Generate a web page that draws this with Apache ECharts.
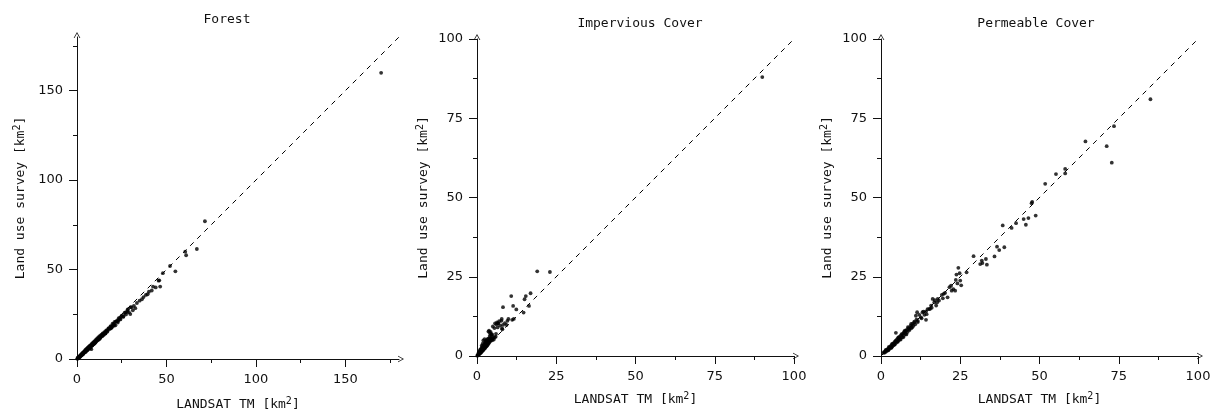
<!DOCTYPE html>
<html>
<head>
<meta charset="utf-8">
<script src="https://cdn.jsdelivr.net/npm/echarts@6/dist/echarts.min.js"></script>
<style>
  html, body { margin: 0; padding: 0; background: #fff; }
  #chart { width: 1216px; height: 410px; }
</style>
</head>
<body>
<div id="chart"></div>
<script>
// Panel titles and axis extents
const panelTitles = ['Forest', 'Impervious Cover', 'Permeable Cover'];
const axisMax = [180, 100, 100];
const majorTicks = [[0, 50, 100, 150], [0, 25, 50, 75, 100], [0, 25, 50, 75, 100]];
const minorTicks = [[25, 75, 125, 175], [12.5, 37.5, 62.5, 87.5], [12.5, 37.5, 62.5, 87.5]];

// Forest: LANDSAT TM area vs land use survey area (km²)
const forestLandsat = [
  0.2, 0.3, 0.4, 0.5, 0.6, 0.7, 0.8, 1.0, 1.1, 1.2, 1.3, 1.5, 1.6, 1.7, 1.8, 2.0, 2.1, 2.2, 2.3, 2.5,
  2.6, 2.7, 2.9, 3.0, 3.1, 3.2, 3.4, 3.5, 3.6, 3.8, 4.0, 4.1, 4.2, 4.4, 4.5, 4.6, 4.8, 5.0, 5.1, 5.3,
  5.5, 5.6, 5.8, 6.0, 6.1, 6.3, 6.5, 6.6, 6.8, 7.0, 7.1, 7.3, 7.6, 7.7, 7.9, 8.0, 8.2, 8.3, 8.5, 8.8,
  9.0, 9.1, 9.4, 9.6, 9.7, 10.0, 10.2, 10.3, 10.6, 10.9, 11.0, 11.3, 11.5, 11.7, 12.0, 12.1, 12.4, 12.8,
  12.9, 13.2, 13.6, 13.7, 14.0, 14.4, 14.6, 14.8, 15.3, 15.6, 15.8, 16.3, 16.6, 16.9, 17.5, 17.8, 18.1,
  18.7, 19.0, 19.3, 19.9, 20.2, 20.5, 21.0, 21.5, 21.8, 22.1, 22.8, 23.1, 23.5, 24.3, 24.7, 25.0, 25.8,
  26.6, 27.0, 27.4, 28.2, 28.6, 29.0, 29.8, 30.0, 30.4, 31.2, 31.8, 32.6, 33.5, 35.0, 36.3, 37.2, 38.5,
  39.5, 40.2, 41.8, 42.5, 44.0, 45.6, 46.0, 46.5, 48.0, 52.0, 55.0, 60.5, 61.0, 67.0, 71.5, 170.0,
  3.3, 4.9, 5.9, 6.9, 8.6, 9.3, 10.5, 11.8, 13.0, 14.2, 15.0, 16.0, 17.2, 18.4, 19.6, 20.8, 22.4, 24.0,
  26.0, 28.0, 7.4, 9.9, 12.6, 15.9, 18.9, 20.6, 23.2
];
const forestSurvey = [
  0.1, 0.4, 0.6, 0.3, 0.8, 0.5, 0.6, 1.1, 0.7, 1.0, 1.4, 1.2, 1.8, 1.3, 1.5, 2.2, 1.7, 2.0, 2.5, 2.1,
  2.3, 2.9, 2.4, 3.3, 3.0, 2.7, 3.6, 3.3, 3.1, 4.0, 3.5, 3.9, 4.4, 3.8, 4.3, 4.9, 4.2, 5.3, 4.8, 4.6,
  5.8, 5.3, 5.0, 6.3, 5.7, 5.6, 6.8, 6.2, 5.9, 7.3, 6.7, 6.5, 7.8, 7.2, 7.0, 5.5, 8.4, 7.9, 7.6, 9.0,
  8.5, 8.2, 9.6, 9.1, 8.8, 10.1, 9.7, 9.4, 10.8, 10.4, 10.0, 11.5, 10.9, 10.6, 12.2, 11.6, 11.3, 12.9,
  12.3, 12.0, 13.6, 13.0, 12.8, 14.3, 14.0, 13.6, 15.0, 14.8, 14.4, 16.0, 15.9, 15.3, 17.0, 17.3, 16.8,
  18.2, 18.3, 17.6, 19.8, 18.9, 19.6, 20.7, 18.8, 20.9, 21.2, 20.4, 22.3, 23.0, 22.1, 23.6, 24.3, 23.5,
  25.8, 26.0, 24.9, 27.4, 27.9, 26.1, 25.1, 29.0, 28.9, 27.2, 29.7, 28.4, 31.3, 32.6, 33.4, 34.6, 35.8,
  36.2, 37.6, 38.3, 40.5, 40.0, 43.8, 44.0, 40.5, 48.0, 52.0, 49.0, 60.0, 58.0, 61.5, 77.0, 160.0,
  2.6, 4.0, 5.1, 6.0, 7.6, 8.3, 9.5, 10.7, 11.9, 12.9, 13.5, 14.6, 15.8, 17.0, 17.9, 19.3, 21.1, 22.6,
  23.9, 26.3, 6.2, 8.7, 11.2, 14.2, 17.1, 18.6, 21.5
];

// Impervious cover: LANDSAT TM area vs land use survey area (km²)
const imperviousLandsat = [
  0.1, 0.2, 0.3, 0.4, 0.5, 0.5, 0.6, 0.7, 0.8, 0.9, 0.9, 1.0, 1.0, 1.1, 1.2, 1.3, 1.3, 1.4, 1.5, 1.5,
  1.6, 1.7, 1.7, 1.8, 1.9, 2.0, 2.0, 2.1, 2.1, 2.2, 2.3, 2.4, 2.4, 2.5, 2.5, 2.6, 2.7, 2.8, 2.9, 2.9,
  3.0, 3.0, 3.1, 3.2, 3.3, 3.3, 3.4, 3.5, 3.6, 3.6, 3.7, 3.8, 3.9, 4.0, 4.1, 4.2, 4.4, 4.6, 4.8, 5.0,
  5.3, 5.6, 3.6, 3.8, 4.0, 4.1, 4.3, 4.5, 4.5, 4.8, 5.0, 5.0, 5.5, 5.7, 5.9, 6.0, 6.1, 6.3, 6.5, 6.6,
  6.7, 7.0, 7.3, 7.7, 7.8, 7.9, 8.0, 8.2, 8.2, 8.8, 9.3, 9.6, 9.9, 10.8, 11.1, 11.4, 11.6, 12.4, 14.7,
  15.0, 15.4, 16.4, 16.9, 19.0, 23.0, 90.0,
  0.6, 1.1, 1.6, 2.2, 2.6, 3.1, 3.4, 3.9, 4.3, 1.8, 2.7
];
const imperviousSurvey = [
  0.1, 0.3, 0.2, 0.5, 0.6, 1.0, 0.4, 0.9, 0.7, 1.1, 1.6, 0.9, 2.0, 1.4, 1.0, 1.6, 2.3, 1.3, 1.9, 3.3,
  1.5, 2.1, 2.9, 1.7, 2.4, 1.9, 4.9, 2.6, 3.5, 2.2, 2.9, 2.4, 5.3, 3.1, 4.1, 2.6, 3.4, 2.9, 3.7, 4.7,
  3.1, 4.9, 4.0, 3.3, 4.3, 5.3, 3.6, 4.6, 3.9, 5.5, 4.9, 4.2, 5.2, 4.5, 5.6, 5.0, 4.8, 5.3, 5.0, 5.5,
  5.2, 5.9, 7.7, 8.0, 6.3, 7.2, 7.6, 6.5, 6.9, 6.8, 9.3, 6.0, 8.8, 10.3, 6.1, 7.0, 10.0, 10.6, 9.0, 10.3,
  10.3, 11.0, 9.6, 11.1, 11.7, 8.7, 8.4, 15.4, 9.8, 10.4, 9.8, 11.1, 11.7, 18.9, 11.4, 15.8, 11.7, 14.7, 13.7,
  17.9, 18.9, 15.8, 19.8, 26.7, 26.5, 88.0,
  1.2, 1.8, 2.6, 3.0, 3.8, 4.4, 4.4, 5.0, 5.4, 3.9, 4.5
];

// Permeable cover: LANDSAT TM area vs land use survey area (km²)
const permeableLandsat = [
  0.8, 1.0, 1.2, 1.4, 1.5, 1.6, 1.8, 2.0, 2.2, 2.3, 2.4, 2.5, 2.6, 2.8, 3.0, 3.2, 3.3, 3.4, 3.5, 3.6,
  3.8, 4.0, 4.2, 4.3, 4.4, 4.5, 4.6, 4.7, 4.8, 5.0, 5.2, 5.3, 5.4, 5.5, 5.6, 5.8, 6.0, 6.2, 6.3, 6.5,
  6.6, 6.9, 7.0, 7.2, 7.2, 7.5, 7.5, 7.8, 7.9, 8.0, 8.1, 8.4, 8.5, 8.7, 8.9, 9.0, 9.3, 9.5, 9.6, 9.8,
  9.9, 10.2, 10.5, 10.5, 10.8, 11.0, 11.2, 11.4, 11.6, 11.6, 12.1, 12.6, 13.1, 13.7, 14.2, 14.2, 14.7,
  15.2, 15.8, 16.3, 16.8, 17.4, 17.7, 17.9, 19.2, 19.8, 21.0, 21.6, 22.1, 22.3, 23.4, 23.6, 23.8, 24.4,
  24.8, 25.0, 27.0, 29.2, 31.3, 31.8, 32.0, 33.1, 33.4, 35.8, 36.6, 37.3, 38.4, 38.9, 41.2, 42.6, 45.0,
  45.7, 46.5, 47.5, 47.7, 48.8, 51.8, 55.2, 58.1, 58.1, 64.5, 71.2, 72.8, 73.5, 85.0,
  12.8, 13.4, 14.4, 15.5, 16.0, 17.0, 18.3, 19.5, 20.2, 24.1, 25.3, 22.8
];
const permeableSurvey = [
  1.0, 1.3, 1.1, 1.6, 1.9, 1.4, 1.9, 1.7, 2.3, 1.8, 2.0, 2.9, 2.6, 2.4, 3.1, 2.7, 2.6, 3.5, 3.8, 3.0,
  3.9, 3.4, 4.3, 3.6, 3.8, 4.6, 4.8, 7.3, 4.2, 5.2, 4.6, 4.5, 5.6, 5.9, 5.0, 6.0, 5.4, 5.2, 6.5, 6.9,
  5.9, 7.0, 5.9, 6.4, 7.5, 7.6, 8.0, 7.0, 8.0, 6.8, 8.2, 7.6, 9.1, 8.8, 8.5, 8.2, 9.5, 10.1, 8.8, 9.0,
  10.1, 9.5, 10.8, 10.6, 10.0, 12.7, 11.5, 13.8, 10.7, 11.1, 13.0, 12.2, 13.8, 13.0, 14.1, 11.4, 14.8,
  14.8, 15.9, 18.0, 16.9, 15.9, 16.9, 18.0, 19.3, 19.6, 18.5, 21.7, 22.2, 20.6, 20.6, 24.0, 25.7, 27.8,
  26.1, 23.8, 26.4, 31.5, 29.0, 30.1, 29.3, 30.6, 28.8, 31.4, 34.5, 33.4, 41.2, 34.3, 40.4, 41.9, 43.2,
  41.4, 43.5, 48.2, 48.6, 44.3, 54.3, 57.4, 59.0, 57.6, 67.7, 66.2, 61.0, 72.5, 81.0,
  11.9, 14.0, 13.2, 14.9, 15.2, 17.6, 17.5, 18.2, 19.9, 22.9, 22.3, 21.1
];

const xSets = [forestLandsat, imperviousLandsat, permeableLandsat];
const ySets = [forestSurvey, imperviousSurvey, permeableSurvey];

const MONO = '"DejaVu Sans Mono", "Liberation Mono", monospace';
const SANS = '"DejaVu Sans", Verdana, sans-serif';
const INK = '#111';
const ARROW = 'path://M0,9 L5,0 L10,9 L8.8,9 L5,2.2 L1.2,9 Z';

// Plot areas, in pixels
const grids = [
  { left: 77, top: 37, width: 322, height: 322, outerBoundsMode: 'none', containLabel: false },
  { left: 477, top: 39, width: 317, height: 317, outerBoundsMode: 'none', containLabel: false },
  { left: 881, top: 39, width: 317, height: 317, outerBoundsMode: 'none', containLabel: false }
];
const titlePos = [
  { x: 227, y: 13 },
  { x: 640, y: 17 },
  { x: 1036, y: 17 }
];
const yNameGap = [47, 44, 44];
const xNameGap = [37, 35, 35];

const nameRich = {
  a: { fontFamily: MONO, fontSize: 13, color: INK },
  s: { fontFamily: MONO, fontSize: 10, color: INK, padding: [0, 0, 8, 0] }
};

const xAxes = [], yAxes = [], series = [], titles = [];

for (let i = 0; i < 3; i++) {
  const max = axisMax[i];
  const base = { type: 'value', gridIndex: i, min: 0, max: max, splitLine: { show: false } };

  // labelled axis with long ticks and arrow
  xAxes.push(Object.assign({}, base, {
    position: 'bottom',
    axisLine: { show: true, lineStyle: { color: INK, width: 1 }, symbol: ['none', ARROW], symbolSize: [7, 6], symbolOffset: [0, 2] },
    axisTick: { show: true, length: 8, customValues: majorTicks[i], lineStyle: { color: INK } },
    axisLabel: { show: true, customValues: majorTicks[i], margin: 14, fontFamily: SANS, fontSize: 13, color: INK },
    name: '{a|LANDSAT TM [km}{s|2}{a|]}',
    nameLocation: 'middle',
    nameGap: xNameGap[i],
    nameTextStyle: { rich: nameRich }
  }));
  // short intermediate ticks
  xAxes.push(Object.assign({}, base, {
    position: 'bottom',
    axisLine: { show: false },
    axisTick: { show: true, length: 4, customValues: minorTicks[i], lineStyle: { color: INK } },
    axisLabel: { show: false }
  }));

  yAxes.push(Object.assign({}, base, {
    position: 'left',
    axisLine: { show: true, lineStyle: { color: INK, width: 1 }, symbol: ['none', ARROW], symbolSize: [7, 6], symbolOffset: [0, 2] },
    axisTick: { show: true, length: 8, customValues: majorTicks[i], lineStyle: { color: INK } },
    axisLabel: { show: true, customValues: majorTicks[i], margin: 14, fontFamily: SANS, fontSize: 13, color: INK },
    name: '{a|Land use survey [km}{s|2}{a|]}',
    nameLocation: 'middle',
    nameGap: yNameGap[i],
    nameRotate: 90,
    nameTextStyle: { rich: nameRich }
  }));
  yAxes.push(Object.assign({}, base, {
    position: 'left',
    axisLine: { show: false },
    axisTick: { show: true, length: 4, customValues: minorTicks[i], lineStyle: { color: INK } },
    axisLabel: { show: false }
  }));

  // 1:1 reference line
  series.push({
    type: 'line',
    xAxisIndex: 2 * i,
    yAxisIndex: 2 * i,
    data: [[0, 0], [max, max]],
    symbol: 'none',
    silent: true,
    lineStyle: { color: '#000', width: 1, type: [5, 5] },
    z: 1
  });

  series.push({
    type: 'scatter',
    xAxisIndex: 2 * i,
    yAxisIndex: 2 * i,
    data: xSets[i].map((v, k) => [v, ySets[i][k]]),
    symbol: 'circle',
    symbolSize: 3.8,
    itemStyle: { color: '#000' },
    z: 3
  });

  titles.push({
    text: panelTitles[i],
    left: titlePos[i].x,
    top: titlePos[i].y,
    textAlign: 'center',
    padding: 0,
    textStyle: { fontFamily: MONO, fontSize: 13, fontWeight: 'normal', color: INK }
  });
}

const chart = echarts.init(document.getElementById('chart'), null, { renderer: 'canvas' });
chart.setOption({
  animation: false,
  backgroundColor: '#fff',
  title: titles,
  grid: grids,
  xAxis: xAxes,
  yAxis: yAxes,
  series: series
});
</script>
</body>
</html>
